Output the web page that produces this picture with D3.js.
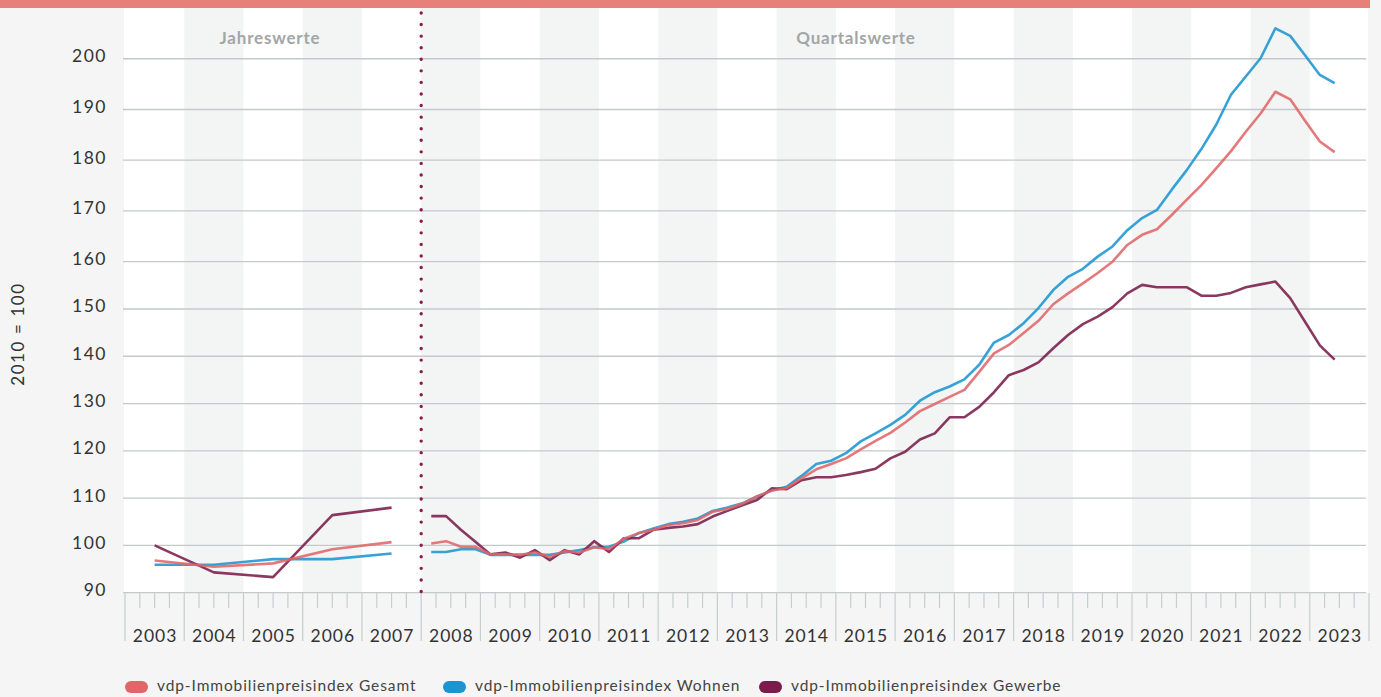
<!DOCTYPE html>
<html lang="de">
<head>
<meta charset="utf-8">
<title>vdp-Immobilienpreisindex</title>
<script src="https://cdn.jsdelivr.net/npm/d3@7"></script>
<style>
  body { margin: 0; background: #f4f5f4; }
  svg { display: block; font-family: Lato, "Noto Sans", sans-serif; }
</style>
</head>
<body>
<svg id="chart"></svg>
<script>
// Annual values 2003-2007
const annualYears = [2003, 2004, 2005, 2006, 2007];
const annualGesamt = [96.8, 95.5, 96.2, 99.2, 100.7];
const annualWohnen = [95.9, 95.9, 97.1, 97.1, 98.3];
const annualGewerbe = [100.0, 94.3, 93.3, 106.4, 108.0];

// Quarterly values 2008 Q1 - 2023 Q2
const quarterYears = d3.range(2008, 2024);
const quarterGesamt = [
  100.4, 100.9, 99.7, 99.7,   98.1, 98.1, 98.0, 98.5,
  97.6, 98.8, 98.5, 99.6,     99.2, 101.4, 102.6, 103.3,
  104.3, 104.7, 105.4, 107.1, 107.7, 108.8, 110.4, 111.6,
  112.1, 114.2, 116.1, 117.2, 118.4, 120.3, 122.1, 123.8,
  126.0, 128.4, 129.9, 131.4, 132.9, 136.7, 140.6, 142.4,
  144.9, 147.5, 151.0, 153.3, 155.4, 157.6, 160.0, 163.3,
  165.3, 166.4, 169.2, 172.2, 175.1, 178.4, 181.8, 185.6,
  189.2, 193.5, 192.0, 187.8, 183.7, 181.6
];
const quarterWohnen = [
  98.6, 98.6, 99.2, 99.2,     98.0, 98.0, 98.0, 98.0,
  98.0, 98.5, 99.0, 99.6,     99.7, 100.8, 102.6, 103.6,
  104.5, 105.0, 105.7, 107.3, 108.0, 108.9, 110.3, 111.6,
  112.4, 114.7, 117.2, 117.9, 119.5, 122.0, 123.7, 125.5,
  127.6, 130.6, 132.4, 133.6, 135.1, 138.2, 142.9, 144.5,
  147.0, 150.2, 154.0, 156.8, 158.5, 161.0, 163.0, 166.2,
  168.6, 170.2, 174.2, 178.0, 182.2, 187.0, 192.9, 196.5,
  200.1, 206.0, 204.5, 200.7, 196.8, 195.2
];
const quarterGewerbe = [
  106.2, 106.2, 103.3, 100.7, 98.1, 98.5, 97.4, 99.0,
  96.9, 99.0, 98.1, 100.9,    98.6, 101.5, 101.5, 103.3,
  103.7, 104.0, 104.5, 106.1, 107.3, 108.5, 109.6, 112.1,
  111.9, 113.8, 114.4, 114.4, 114.9, 115.5, 116.2, 118.4,
  119.8, 122.4, 123.7, 127.1, 127.1, 129.3, 132.4, 136.0,
  137.1, 138.7, 141.7, 144.5, 146.8, 148.4, 150.4, 153.3,
  155.1, 154.6, 154.6, 154.6, 152.8, 152.8, 153.4, 154.6,
  155.2, 155.8, 152.3, 147.3, 142.3, 139.3
];

const seriesNames = ["vdp-Immobilienpreisindex Gesamt", "vdp-Immobilienpreisindex Wohnen", "vdp-Immobilienpreisindex Gewerbe"];
const seriesColors = ["#e0666a", "#1b95d2", "#7b1d4b"];
const yTicks = d3.range(90, 201, 10);

// Canvas
const width = 1381, height = 697;
const plot = { left: 125, right: 1369, top: 8, bottom: 593 };

const svg = d3.select("#chart")
  .attr("width", width)
  .attr("height", height);

// Scales: one band per year, quarters split inside the band
const allYears = d3.range(2003, 2024);
const x = d3.scaleBand()
  .domain(allYears)
  .range([plot.left, plot.right])
  .padding(0);
const bw = x.bandwidth();

// the original chart is slightly stretched above 160
const y = d3.scaleLinear()
  .domain([90, 160, 210])
  .range([plot.bottom - 0.3, 261.7, plot.top]);

const annualX = yr => x(yr) + bw / 2;
const quarterX = i => x(2008 + Math.floor(i / 4)) + ((i % 4) + 0.68) * bw / 4;

// Top red bar
svg.append("rect")
  .attr("x", 0).attr("y", 0)
  .attr("width", plot.right + 1).attr("height", plot.top)
  .attr("fill", "#e8807a");

// Plot background, even years shaded
svg.append("rect")
  .attr("x", plot.left - 1).attr("y", plot.top)
  .attr("width", plot.right - plot.left).attr("height", plot.bottom - plot.top)
  .attr("fill", "#ffffff");

svg.append("g")
  .selectAll("rect")
  .data(allYears.filter(d => d % 2 === 0))
  .enter().append("rect")
  .attr("x", d => x(d))
  .attr("y", plot.top)
  .attr("width", bw)
  .attr("height", plot.bottom - plot.top)
  .attr("fill", "#f3f5f4");

// Horizontal grid lines
svg.append("g")
  .selectAll("line")
  .data(yTicks)
  .enter().append("line")
  .attr("x1", plot.left - 2)
  .attr("x2", plot.right - 3)
  .attr("y1", d => y(d))
  .attr("y2", d => y(d))
  .attr("stroke", "#c4c9cc")
  .attr("stroke-width", 1.3);

// Y labels
svg.append("g")
  .selectAll("text")
  .data(yTicks)
  .enter().append("text")
  .attr("x", 107)
  .attr("y", d => y(d) - 1)
  .attr("text-anchor", "end")
  .attr("dominant-baseline", "middle")
  .attr("fill", "#333")
  .style("font-size", "17.5px")
  .style("letter-spacing", "1.5px")
  .text(d => d);

svg.append("text")
  .attr("transform", `translate(24, 334) rotate(-90)`)
  .attr("text-anchor", "middle")
  .attr("fill", "#333")
  .style("font-size", "17px")
  .style("letter-spacing", "1.6px")
  .text("2010 = 100");

// X axis: long year separators, short quarter ticks, year labels
const axisG = svg.append("g");
axisG.selectAll("line.sep")
  .data(d3.range(allYears.length + 1))
  .enter().append("line")
  .attr("class", "sep")
  .attr("x1", d => plot.left + d * bw)
  .attr("x2", d => plot.left + d * bw)
  .attr("y1", plot.bottom)
  .attr("y2", 641)
  .attr("stroke", "#c8cdcf")
  .attr("stroke-width", 1.2);

axisG.selectAll("line.q")
  .data(allYears.flatMap(yr => [1, 2, 3].map(q => x(yr) + q * bw / 4)))
  .enter().append("line")
  .attr("class", "q")
  .attr("x1", d => d).attr("x2", d => d)
  .attr("y1", plot.bottom)
  .attr("y2", 608)
  .attr("stroke", "#c8cdcf")
  .attr("stroke-width", 1.2);

axisG.selectAll("text")
  .data(allYears)
  .enter().append("text")
  .attr("x", d => x(d) + bw / 2 + 0.5)
  .attr("y", 642)
  .attr("text-anchor", "middle")
  .attr("fill", "#333")
  .style("font-size", "17.5px")
  .style("letter-spacing", "1px")
  .text(d => d);

// Section labels
svg.append("text")
  .attr("x", 270).attr("y", 44)
  .attr("text-anchor", "middle")
  .attr("fill", "#a3a5a6")
  .style("font-size", "17px")
  .style("font-weight", "bold")
  .style("letter-spacing", "0.8px")
  .text("Jahreswerte");

svg.append("text")
  .attr("x", 856).attr("y", 44)
  .attr("text-anchor", "middle")
  .attr("fill", "#a3a5a6")
  .style("font-size", "17px")
  .style("font-weight", "bold")
  .style("letter-spacing", "0.8px")
  .text("Quartalswerte");

// Dotted divider between annual and quarterly values
svg.append("line")
  .attr("x1", x(2008)).attr("x2", x(2008))
  .attr("y1", 13).attr("y2", plot.bottom)
  .attr("stroke", "#8a1a4e")
  .attr("stroke-width", 3.4)
  .attr("stroke-linecap", "round")
  .attr("stroke-dasharray", "0 11.57");

// Lines
const line = d3.line().x(d => d[0]).y(d => d[1]);
const annualSeries = [annualGesamt, annualWohnen, annualGewerbe];
const quarterSeries = [quarterGesamt, quarterWohnen, quarterGewerbe];
const drawOrder = [1, 2, 0]; // Wohnen, Gewerbe, Gesamt on top

const linesG = svg.append("g")
  .attr("fill", "none")
  .attr("stroke-width", 2.6)
  .attr("stroke-linejoin", "round");

drawOrder.forEach(s => {
  linesG.append("path")
    .attr("d", line(annualSeries[s].map((v, i) => [annualX(annualYears[i]), y(v)])))
    .attr("stroke", seriesColors[s])
    .attr("opacity", 0.88);
  linesG.append("path")
    .attr("d", line(quarterSeries[s].map((v, i) => [quarterX(i), y(v)])))
    .attr("stroke", seriesColors[s])
    .attr("opacity", 0.88);
});

// Legend
const legendX = [125, 443, 759];
const legend = svg.append("g")
  .selectAll("g")
  .data(seriesNames)
  .enter().append("g")
  .attr("transform", (d, i) => `translate(${legendX[i]}, 687)`);

legend.append("rect")
  .attr("x", 0).attr("y", -6)
  .attr("width", 23).attr("height", 12)
  .attr("rx", 6)
  .attr("fill", (d, i) => seriesColors[i]);

legend.append("text")
  .attr("x", 32)
  .attr("y", 0)
  .attr("dominant-baseline", "middle")
  .attr("fill", "#444")
  .style("font-size", "15.5px")
  .style("letter-spacing", "0.9px")
  .text(d => d);
</script>
</body>
</html>
